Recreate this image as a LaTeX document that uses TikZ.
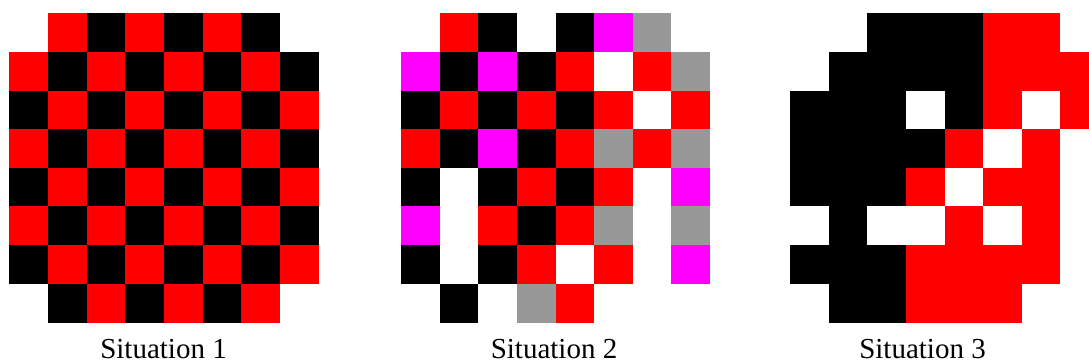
\documentclass[tikz,border=0pt]{standalone}
\usepackage{fontspec}
\setmainfont{Liberation Serif}
\definecolor{cR}{RGB}{255,0,0}
\definecolor{cB}{RGB}{0,0,0}
\definecolor{cM}{RGB}{255,0,255}
\definecolor{cG}{RGB}{152,152,152}
\definecolor{cW}{RGB}{255,255,255}
\definecolor{cE}{RGB}{255,255,255}
\def\cs{38.64}
\def\ytop{13.3}
\newcommand\mygrid[2]{%
  \foreach \row [count=\r from 0] in {#2} {
    \foreach \c [count=\k from 0] in \row {
      \fill[fill=c\c] ({#1+\k*\cs},{-\ytop-\r*\cs}) rectangle ++(\cs+0.3,-\cs-0.3);
    }
  }%
}
\tikzset{caption/.style={anchor=base, inner sep=0pt, font=\fontsize{29}{34}\selectfont}}
\begin{document}
\begin{tikzpicture}[x=1pt,y=1pt]
\useasboundingbox (0,0) rectangle (1089,-363);
\clip (0,0) rectangle (1089,-363);
\fill[white] (0,0) rectangle (1089,-363);
% Situation 1
\mygrid{9.4}{{E,R,B,R,B,R,B,E},{R,B,R,B,R,B,R,B},{B,R,B,R,B,R,B,R},{R,B,R,B,R,B,R,B},{B,R,B,R,B,R,B,R},{R,B,R,B,R,B,R,B},{B,R,B,R,B,R,B,R},{E,B,R,B,R,B,R,E}}
% Situation 2
\mygrid{401}{{E,R,B,W,B,M,G,E},{M,B,M,B,R,W,R,G},{B,R,B,R,B,R,W,R},{R,B,M,B,R,G,R,G},{B,W,B,R,B,R,W,M},{M,W,R,B,R,G,W,G},{B,W,B,R,W,R,W,M},{E,B,W,G,R,E,E,E}}
% Situation 3
\mygrid{790}{{E,E,B,B,B,R,R,E},{E,B,B,B,B,R,R,R},{B,B,B,W,B,R,W,R},{B,B,B,B,R,W,R,E},{B,B,B,R,W,R,R,E},{W,B,W,W,R,W,R,E},{B,B,B,R,R,R,R,E},{E,B,B,R,R,R,E,E}}
\node[caption] (t1) at (163.5,-358) {Situation 1};
\node[caption] (t2) at (554,-358) {Situation 2};
\node[caption] (t3) at (922.5,-358) {Situation 3};
\end{tikzpicture}
\end{document}
